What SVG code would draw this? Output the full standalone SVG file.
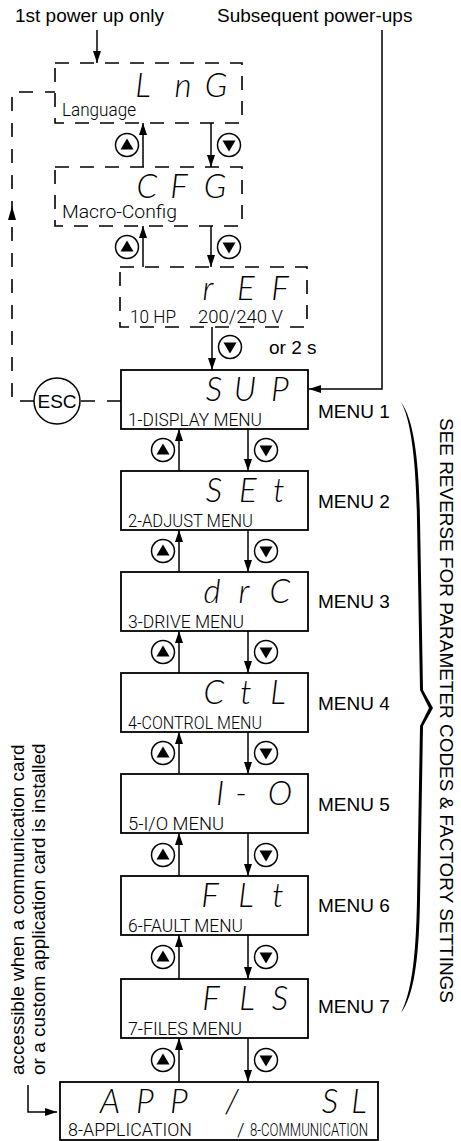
<svg xmlns="http://www.w3.org/2000/svg" xmlns:xlink="http://www.w3.org/1999/xlink" width="461" height="1141" viewBox="0 0 461 1141">
<style>
.box{fill:#fff;stroke:#000;stroke-width:1.8}
.dbox{fill:none;stroke:#000;stroke-width:1.6;stroke-dasharray:14 11}
.lcd{font-family:Lato,"DejaVu Sans",sans-serif;font-style:italic;font-weight:300;font-size:33px;text-anchor:middle;fill:#000}
.lbl{font-family:Roboto,"Liberation Sans",sans-serif;font-weight:300;font-size:19px;fill:#000}
.t{font-family:"Liberation Sans",Arial,sans-serif;font-size:19px;fill:#000}
.c{fill:none;stroke:#000;stroke-width:1.5}
.d{fill:none;stroke:#000;stroke-width:1.6;stroke-dasharray:14 12}
.ic{fill:#fff;stroke:#000;stroke-width:1.5}
</style>
<defs>
<marker id="ah" viewBox="0 0 12 8" refX="12" refY="4" markerWidth="12" markerHeight="8" markerUnits="userSpaceOnUse" orient="auto"><path d="M0,0 L12,4 L0,8 z" fill="#000"/></marker>
<g id="upk"><circle class="ic" r="11.5"/><path d="M0,-6.5 L6.5,4.5 L-6.5,4.5 z" fill="#000"/></g>
<g id="dnk"><circle class="ic" r="11.5"/><path d="M0,6.5 L6.5,-4.5 L-6.5,-4.5 z" fill="#000"/></g>
</defs>

<text class="t" x="15" y="22">1st power up only</text>
<text class="t" x="217" y="22">Subsequent power-ups</text>

<g id="connectors">
<line class="c" x1="97" y1="30" x2="97" y2="63" marker-end="url(#ah)"/>
<polyline class="c" points="382,30 382,389 309,389" marker-end="url(#ah)"/>
<line class="c" x1="143" y1="167" x2="143" y2="123" marker-end="url(#ah)"/>
<line class="c" x1="211" y1="123" x2="211" y2="167" marker-end="url(#ah)"/>
<line class="c" x1="143" y1="267" x2="143" y2="226" marker-end="url(#ah)"/>
<line class="c" x1="211" y1="226" x2="211" y2="267" marker-end="url(#ah)"/>
<line class="c" x1="212" y1="327" x2="212" y2="370" marker-end="url(#ah)"/>
<line class="c" x1="179" y1="471" x2="179" y2="429" marker-end="url(#ah)"/>
<line class="c" x1="248" y1="429" x2="248" y2="471" marker-end="url(#ah)"/>
<line class="c" x1="179" y1="572" x2="179" y2="530" marker-end="url(#ah)"/>
<line class="c" x1="248" y1="530" x2="248" y2="572" marker-end="url(#ah)"/>
<line class="c" x1="179" y1="673" x2="179" y2="631" marker-end="url(#ah)"/>
<line class="c" x1="248" y1="631" x2="248" y2="673" marker-end="url(#ah)"/>
<line class="c" x1="179" y1="774" x2="179" y2="732" marker-end="url(#ah)"/>
<line class="c" x1="248" y1="732" x2="248" y2="774" marker-end="url(#ah)"/>
<line class="c" x1="179" y1="876" x2="179" y2="833" marker-end="url(#ah)"/>
<line class="c" x1="248" y1="833" x2="248" y2="876" marker-end="url(#ah)"/>
<line class="c" x1="179" y1="979" x2="179" y2="935" marker-end="url(#ah)"/>
<line class="c" x1="248" y1="935" x2="248" y2="979" marker-end="url(#ah)"/>
<line class="c" x1="179" y1="1082" x2="179" y2="1038" marker-end="url(#ah)"/>
<line class="c" x1="248" y1="1038" x2="248" y2="1082" marker-end="url(#ah)"/>
<polyline class="c" points="28,1085 28,1112 57,1112" marker-end="url(#ah)"/>
<path class="d" d="M121,401 H80 M34,401 H12 V92 H55"/>
<path d="M12,206 L16,220 L8,220 z" fill="#000"/>
<use xlink:href="#upk" x="127" y="145"/>
<use xlink:href="#dnk" x="229" y="145"/>
<use xlink:href="#upk" x="127" y="247"/>
<use xlink:href="#dnk" x="229" y="247"/>
<use xlink:href="#dnk" x="230" y="347"/>
<use xlink:href="#upk" x="163" y="450"/>
<use xlink:href="#dnk" x="266" y="450"/>
<use xlink:href="#upk" x="163" y="551"/>
<use xlink:href="#dnk" x="266" y="551"/>
<use xlink:href="#upk" x="163" y="652"/>
<use xlink:href="#dnk" x="266" y="652"/>
<use xlink:href="#upk" x="163" y="753"/>
<use xlink:href="#dnk" x="266" y="753"/>
<use xlink:href="#upk" x="163" y="855"/>
<use xlink:href="#dnk" x="266" y="855"/>
<use xlink:href="#upk" x="163" y="957"/>
<use xlink:href="#dnk" x="266" y="957"/>
<use xlink:href="#upk" x="163" y="1060"/>
<use xlink:href="#dnk" x="266" y="1060"/>
</g>
<text class="t" x="269" y="354">or 2 s</text>

<g id="esc">
<circle cx="57" cy="401" r="23" fill="#fff" stroke="#000" stroke-width="1.5"/>
<text class="t" x="57" y="408" text-anchor="middle">ESC</text>
</g>

<g id="LnG">
<rect class="dbox" x="55" y="63" width="187" height="60"/>
<text class="lcd" x="143 183 216" y="97">LnG</text>
<text class="lbl" x="62" y="116" font-size="16" textLength="74" lengthAdjust="spacingAndGlyphs">Language</text>
</g>
<g id="CFG">
<rect class="dbox" x="55" y="167" width="187" height="59"/>
<text class="lcd" x="147 179 215" y="198">CFG</text>
<text class="lbl" x="62" y="218" font-size="16" textLength="115" lengthAdjust="spacingAndGlyphs">Macro-Config</text>
</g>
<g id="rEF">
<rect class="dbox" x="120" y="267" width="187" height="60"/>
<text class="lcd" x="208 246 280" y="300">rEF</text>
<text class="lbl" x="130" y="323" textLength="46" lengthAdjust="spacingAndGlyphs">10 HP</text>
<text class="lbl" x="198" y="323" textLength="85" lengthAdjust="spacingAndGlyphs">200/240 V</text>
</g>

<g id="SUP">
<rect class="box" x="121" y="370" width="187" height="59"/>
<text class="lcd" x="214 245 280" y="401">SUP</text>
<text class="lbl" x="128" y="426" textLength="134" lengthAdjust="spacingAndGlyphs">1-DISPLAY MENU</text>
<text class="t" x="318" y="418">MENU 1</text>
</g>
<g id="SEt">
<rect class="box" x="121" y="471" width="187" height="59"/>
<text class="lcd" x="214 248 279" y="502">SEt</text>
<text class="lbl" x="128" y="527" textLength="125" lengthAdjust="spacingAndGlyphs">2-ADJUST MENU</text>
<text class="t" x="318" y="508">MENU 2</text>
</g>
<g id="drC">
<rect class="box" x="121" y="572" width="187" height="59"/>
<text class="lcd" x="212 244 280" y="603">drC</text>
<text class="lbl" x="128" y="628" textLength="116" lengthAdjust="spacingAndGlyphs">3-DRIVE MENU</text>
<text class="t" x="318" y="608">MENU 3</text>
</g>
<g id="CtL">
<rect class="box" x="121" y="673" width="187" height="59"/>
<text class="lcd" x="214 246 278" y="704">CtL</text>
<text class="lbl" x="128" y="729" textLength="134" lengthAdjust="spacingAndGlyphs">4-CONTROL MENU</text>
<text class="t" x="318" y="710">MENU 4</text>
</g>
<g id="I-O">
<rect class="box" x="121" y="774" width="187" height="59"/>
<text class="lcd" x="220 241 280" y="805">I-O</text>
<text class="lbl" x="128" y="830" textLength="96" lengthAdjust="spacingAndGlyphs">5-I/O MENU</text>
<text class="t" x="318" y="811">MENU 5</text>
</g>
<g id="FLt">
<rect class="box" x="121" y="876" width="187" height="59"/>
<text class="lcd" x="210 246 278" y="907">FLt</text>
<text class="lbl" x="128" y="932" textLength="115" lengthAdjust="spacingAndGlyphs">6-FAULT MENU</text>
<text class="t" x="318" y="912">MENU 6</text>
</g>
<g id="FLS">
<rect class="box" x="121" y="979" width="187" height="59"/>
<text class="lcd" x="211 247 280" y="1010">FLS</text>
<text class="lbl" x="128" y="1035" textLength="114" lengthAdjust="spacingAndGlyphs">7-FILES MENU</text>
<text class="t" x="318" y="1013">MENU 7</text>
</g>
<g id="APP-SL">
<rect class="box" x="60" y="1082" width="318" height="58"/>
<text class="lcd" x="110 145 179" y="1113">APP</text>
<text class="lcd" x="232" y="1113">/</text>
<text class="lcd" x="330 359" y="1113">SL</text>
<text class="lbl" x="68" y="1136" textLength="124" lengthAdjust="spacingAndGlyphs">8-APPLICATION</text>
<text class="lbl" x="237" y="1136">/</text>
<text class="lbl" x="250" y="1136" textLength="118" lengthAdjust="spacingAndGlyphs">8-COMMUNICATION</text>
</g>

<path id="brace" fill="#000" d="M401,402 C414,420 419,460 420,520 L423,690 L433,708 L423,726 L420,900 C419,960 414,995 401,1013 C411,993 416,960 417,900 L420,726 L429,708 L420,690 L417,520 C416,460 411,420 401,402 Z"/>

<text class="t" transform="translate(440,418) rotate(90)" textLength="585" lengthAdjust="spacingAndGlyphs">SEE REVERSE FOR PARAMETER CODES &amp; FACTORY SETTINGS</text>
<text class="t" transform="translate(24,1075) rotate(-90)">accessible when a communication card</text>
<text class="t" transform="translate(45,1075) rotate(-90)">or a custom application card is installed</text>
</svg>
